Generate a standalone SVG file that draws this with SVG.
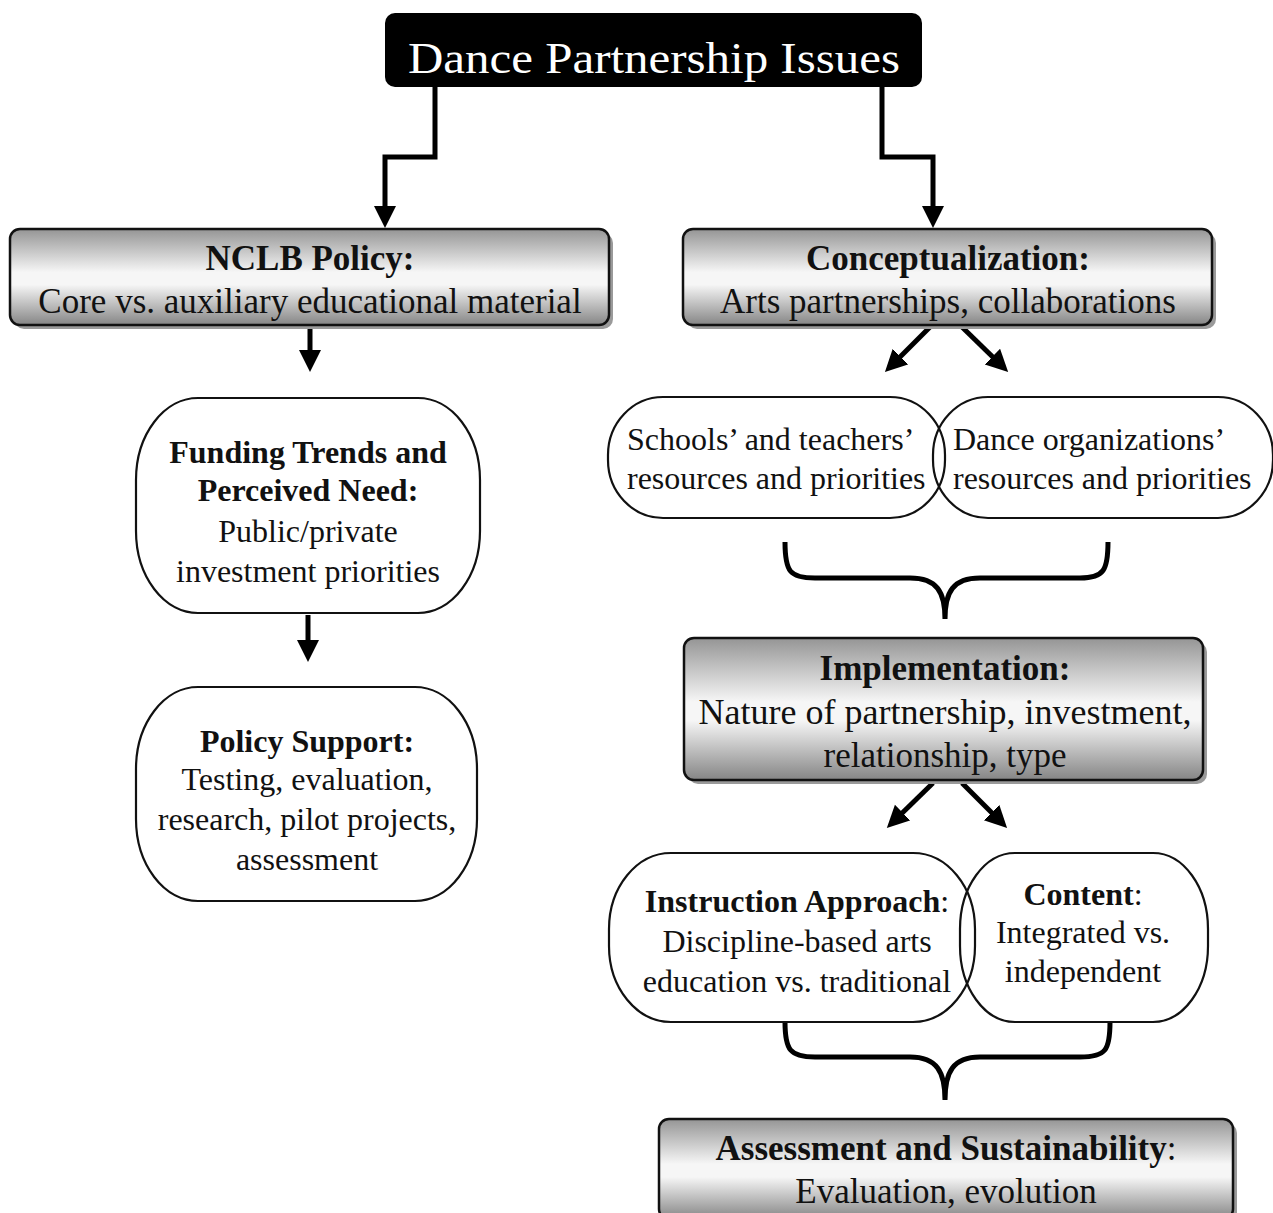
<svg xmlns="http://www.w3.org/2000/svg" width="1273" height="1213" viewBox="0 0 1273 1213">
<style>
text{font-family:"Liberation Serif","Times New Roman",serif;fill:#111;text-anchor:middle}
.t{font-size:32px}
.bx{font-size:35px}
.b{font-weight:bold}
.l{text-anchor:start}
.gbox{fill:url(#gg);stroke:#111;stroke-width:2.5}
.shadow{fill:#9a9a9a}
.oval{fill:none;stroke:#111;stroke-width:2.2}
.con{fill:none;stroke:#000;stroke-width:5}
</style>
<defs>
<linearGradient id="gg" x1="0" y1="0" x2="0" y2="1">
<stop offset="0" stop-color="#959595"/>
<stop offset="0.45" stop-color="#f6f6f6"/>
<stop offset="0.58" stop-color="#f6f6f6"/>
<stop offset="1" stop-color="#858585"/>
</linearGradient>
<marker id="ah" markerUnits="userSpaceOnUse" markerWidth="24" markerHeight="24" refX="12" refY="11" orient="auto">
<path d="M0,0 L22,11 L0,22 z" fill="#000"/>
</marker>
</defs>
<rect width="1273" height="1213" fill="#fff"/>

<g id="connectors">
<path class="con" d="M435,87 V157 H385 V218" marker-end="url(#ah)"/>
<path class="con" d="M882,87 V157 H933 V218" marker-end="url(#ah)"/>
<path class="con" d="M310,327 V362" marker-end="url(#ah)"/>
<path class="con" d="M308,615 V652" marker-end="url(#ah)"/>
<path class="con" d="M930,327 L892,365" marker-end="url(#ah)"/>
<path class="con" d="M962,327 L1001,365" marker-end="url(#ah)"/>
<path class="con" d="M933,783 L894,821" marker-end="url(#ah)"/>
<path class="con" d="M962,783 L1000,821" marker-end="url(#ah)"/>
<path class="con" d="M785,542 C785,572 790,578 815,578 L910,578 C937,578 945,592 945,619 C945,592 953,578 980,578 L1080,578 C1104,578 1108,570 1108,542"/>
<path class="con" d="M785,1022 C785,1050 790,1057 815,1057 L910,1057 C937,1057 945,1072 945,1100 C945,1072 953,1057 980,1057 L1080,1057 C1106,1057 1110,1050 1110,1022"/>
</g>

<g id="title">
<rect x="385" y="13" width="537" height="74" rx="10" fill="#000"/>
<text x="654" y="73" style="font-size:44px;fill:#fff" textLength="492" lengthAdjust="spacingAndGlyphs">Dance Partnership Issues</text>
</g>

<g id="nclb">
<rect class="shadow" x="14" y="233" width="599" height="96" rx="10"/>
<rect class="gbox" x="10" y="229" width="599" height="96" rx="10"/>
<text class="bx b" x="310" y="270">NCLB Policy:</text>
<text class="bx" x="310" y="313">Core vs. auxiliary educational material</text>
</g>

<g id="funding">
<rect class="oval" x="136" y="398" width="344" height="215" rx="62" ry="82"/>
<text class="t b" x="308" y="463">Funding Trends and</text>
<text class="t b" x="308" y="501">Perceived Need:</text>
<text class="t" x="308" y="542">Public/private</text>
<text class="t" x="308" y="582">investment priorities</text>
</g>

<g id="policy">
<rect class="oval" x="136" y="687" width="341" height="214" rx="62" ry="82"/>
<text class="t b" x="307" y="752">Policy Support:</text>
<text class="t" x="307" y="790">Testing, evaluation,</text>
<text class="t" x="307" y="830">research, pilot projects,</text>
<text class="t" x="307" y="870">assessment</text>
</g>

<g id="concept">
<rect class="shadow" x="687" y="233" width="529" height="96" rx="10"/>
<rect class="gbox" x="683" y="229" width="529" height="96" rx="10"/>
<text class="bx b" x="948" y="270">Conceptualization:</text>
<text class="bx" x="948" y="313">Arts partnerships, collaborations</text>
</g>

<g id="schools">
<rect class="oval" x="608" y="397" width="337" height="121" rx="55" ry="58"/>
<text class="t l" x="627" y="450">Schools’ and teachers’</text>
<text class="t l" x="627" y="489">resources and priorities</text>
</g>

<g id="danceorg">
<rect class="oval" x="933" y="397" width="340" height="121" rx="55" ry="58"/>
<text class="t l" x="953" y="450">Dance organizations’</text>
<text class="t l" x="953" y="489">resources and priorities</text>
</g>

<g id="implementation">
<rect class="shadow" x="688" y="642" width="519" height="142" rx="10"/>
<rect class="gbox" x="684" y="638" width="519" height="142" rx="10"/>
<text class="bx b" x="945" y="680">Implementation:</text>
<text class="bx" x="945" y="724" style="font-size:36px">Nature of partnership, investment,</text>
<text class="bx" x="945" y="767">relationship, type</text>
</g>

<g id="instruction">
<rect class="oval" x="609" y="853" width="366" height="169" rx="62" ry="76"/>
<text class="t" x="797" y="912"><tspan class="b">Instruction Approach</tspan>:</text>
<text class="t" x="797" y="952">Discipline-based arts</text>
<text class="t" x="797" y="992">education vs. traditional</text>
</g>

<g id="content">
<rect class="oval" x="960" y="853" width="248" height="169" rx="55" ry="76"/>
<text class="t" x="1083" y="905"><tspan class="b">Content</tspan>:</text>
<text class="t" x="1083" y="943">Integrated vs.</text>
<text class="t" x="1083" y="982">independent</text>
</g>

<g id="assessment">
<rect class="shadow" x="663" y="1123" width="574" height="100" rx="10"/>
<rect class="gbox" x="659" y="1119" width="574" height="100" rx="10"/>
<text class="bx" x="946" y="1160"><tspan class="b">Assessment and Sustainability</tspan>:</text>
<text class="bx" x="946" y="1203">Evaluation, evolution</text>
</g>
</svg>
